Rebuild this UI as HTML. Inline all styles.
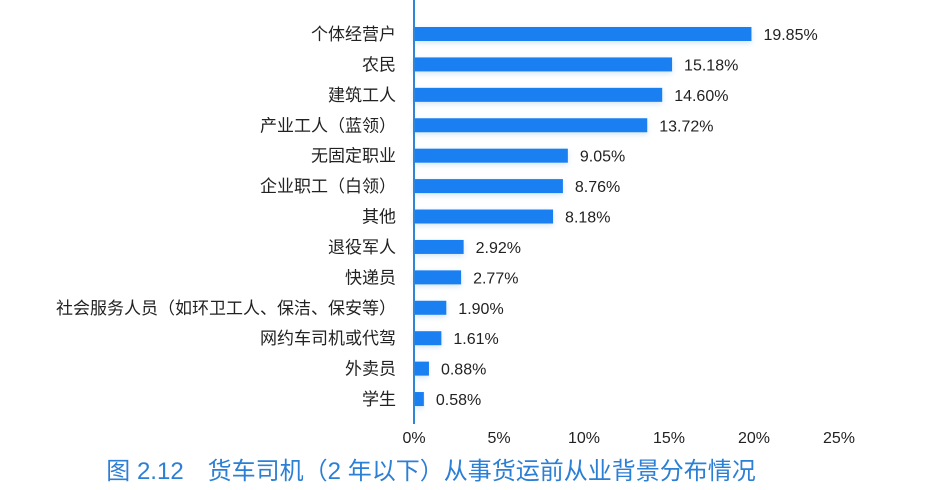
<!DOCTYPE html>
<html><head><meta charset="utf-8">
<style>
html,body{margin:0;padding:0;background:#fff;}
svg{display:block;font-family:"Liberation Sans","Noto Sans CJK SC",sans-serif;}
</style></head>
<body>
<svg id="chart" width="926" height="490" viewBox="0 0 926 490">
<defs>
<filter id="glow" x="-10%" y="-100%" width="120%" height="300%"><feGaussianBlur stdDeviation="3"/></filter>
</defs>
<g id="bars"></g>
<line x1="414" y1="0" x2="414" y2="424" stroke="#2f86d8" stroke-width="2"/>
<g id="ticks"></g>
<text x="431" y="479" text-anchor="middle" font-size="24" fill="#2b7fd4">图 2.12　货车司机（2 年以下）从事货运前从业背景分布情况</text>
</svg>
<script>
const categories = ["个体经营户","农民","建筑工人","产业工人（蓝领）","无固定职业","企业职工（白领）","其他","退役军人","快递员","社会服务人员（如环卫工人、保洁、保安等）","网约车司机或代驾","外卖员","学生"];
const values = [19.85,15.18,14.60,13.72,9.05,8.76,8.18,2.92,2.77,1.90,1.61,0.88,0.58];
const tickValues = [0,5,10,15,20,25];
const tickLabels = ["0%","5%","10%","15%","20%","25%"];
const NS="http://www.w3.org/2000/svg";
const x0=414, pxPer=17;
function xScale(v){return x0+v*pxPer;}
function yScale(i){return 34+i*30.42;}
const gb=document.getElementById('bars');
categories.forEach((c,i)=>{
  const y=yScale(i);
  const sh=document.createElementNS(NS,'rect');
  
  
  sh.setAttribute('x',x0);sh.setAttribute('y',y-5);sh.setAttribute('width',xScale(values[i])-x0);sh.setAttribute('height',14);
  sh.setAttribute('fill','#9cc4ec');sh.setAttribute('opacity','0.45');sh.setAttribute('filter','url(#glow)');
  gb.appendChild(sh);
  const r=document.createElementNS(NS,'rect');
  
  
  r.setAttribute('x',x0);r.setAttribute('y',y-7);r.setAttribute('width',xScale(values[i])-x0);r.setAttribute('height',14);
  r.setAttribute('fill','#1a7ff0');
  gb.appendChild(r);
  const l=document.createElementNS(NS,'text');
  
  
  l.setAttribute('x',396);l.setAttribute('y',y+6);l.setAttribute('text-anchor','end');l.setAttribute('font-size','17');l.setAttribute('fill','#222');
  l.textContent=c;gb.appendChild(l);
  const v=document.createElementNS(NS,'text');
  
  
  v.setAttribute('x',xScale(values[i])+12);v.setAttribute('y',y+6);v.setAttribute('font-size','16');v.setAttribute('fill','#222');
  v.textContent=values[i].toFixed(2)+'%';gb.appendChild(v);
});
const gt=document.getElementById('ticks');
tickValues.forEach((t,i)=>{
  const tx=document.createElementNS(NS,'text');
  
  
  tx.setAttribute('x',xScale(t));tx.setAttribute('y',443);tx.setAttribute('text-anchor','middle');tx.setAttribute('font-size','16');tx.setAttribute('fill','#222');
  tx.textContent=tickLabels[i];gt.appendChild(tx);
});
</script>
</body></html>
